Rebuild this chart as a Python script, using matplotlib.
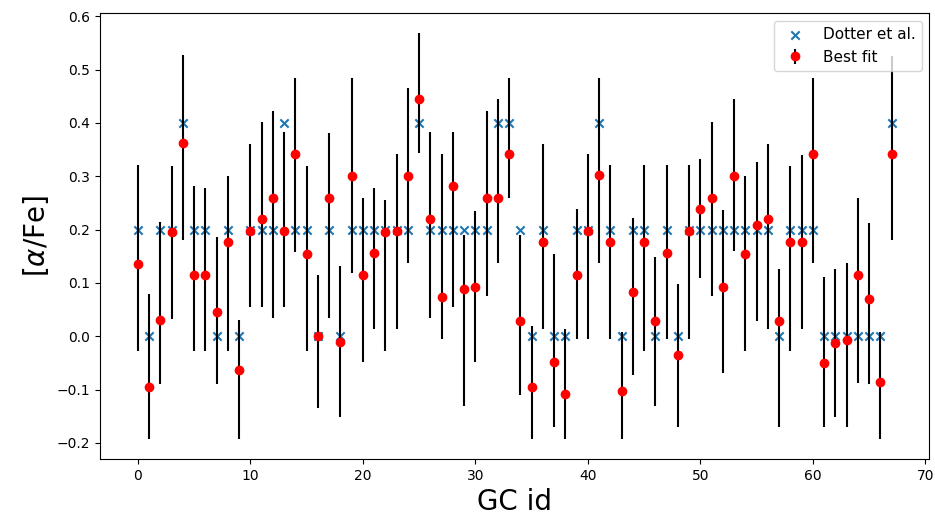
import numpy as np
import matplotlib
matplotlib.use("Agg")
import matplotlib.pyplot as plt

# Dotter et al. literature values
dotter = [0.2, 0.0, 0.2, 0.2, 0.4, 0.2, 0.2, 0.0, 0.2, 0.0,
          0.2, 0.2, 0.2, 0.4, 0.2, 0.2, 0.0, 0.2, 0.0, 0.2,
          0.2, 0.2, 0.2, 0.2, 0.2, 0.4, 0.2, 0.2, 0.2, 0.2,
          0.2, 0.2, 0.4, 0.4, 0.2, 0.0, 0.2, 0.0, 0.0, 0.2,
          0.2, 0.4, 0.2, 0.0, 0.2, 0.2, 0.0, 0.2, 0.0, 0.2,
          0.2, 0.2, 0.2, 0.2, 0.2, 0.2, 0.2, 0.0, 0.2, 0.2,
          0.2, 0.0, 0.0, 0.0, 0.0, 0.0, 0.0, 0.4]

# best fit values
best_fit = [0.136, -0.096, 0.031, 0.195, 0.363, 0.115, 0.115, 0.046, 0.177, -0.063,
            0.198, 0.219, 0.259, 0.198, 0.342, 0.155, 0.000, 0.259, -0.011, 0.300,
            0.115, 0.157, 0.196, 0.198, 0.300, 0.444, 0.219, 0.074, 0.281, 0.089,
            0.092, 0.259, 0.259, 0.342, 0.028, -0.096, 0.177, -0.049, -0.109, 0.115,
            0.198, 0.302, 0.177, -0.102, 0.083, 0.177, 0.028, 0.157, -0.036, 0.198,
            0.238, 0.259, 0.093, 0.300, 0.155, 0.208, 0.219, 0.028, 0.177, 0.177,
            0.342, -0.051, -0.013, -0.008, 0.115, 0.070, -0.085, 0.342]

# upper and lower ends of the error bars
fit_hi = [0.321, 0.079, 0.215, 0.319, 0.527, 0.281, 0.278, 0.187, 0.300, 0.030,
          0.361, 0.401, 0.423, 0.383, 0.484, 0.319, 0.115, 0.381, 0.131, 0.484,
          0.259, 0.278, 0.255, 0.342, 0.466, 0.568, 0.383, 0.342, 0.383, 0.190,
          0.235, 0.423, 0.444, 0.484, 0.190, 0.020, 0.361, 0.154, 0.013, 0.238,
          0.342, 0.484, 0.321, 0.008, 0.221, 0.321, 0.149, 0.321, 0.098, 0.321,
          0.332, 0.401, 0.236, 0.444, 0.300, 0.327, 0.361, 0.127, 0.319, 0.340,
          0.484, 0.111, 0.127, 0.137, 0.259, 0.213, 0.008, 0.526]

fit_lo = [-0.027, -0.192, -0.089, 0.033, 0.180, -0.027, -0.027, -0.089, -0.027, -0.192,
          0.055, 0.055, 0.035, 0.055, 0.158, -0.027, -0.134, 0.035, -0.151, 0.118,
          -0.048, 0.013, -0.028, 0.013, 0.137, 0.343, 0.035, -0.005, 0.055, -0.130,
          -0.049, 0.076, 0.137, 0.260, -0.111, -0.192, 0.013, -0.170, -0.192, -0.005,
          -0.005, 0.137, -0.006, -0.192, -0.073, -0.027, -0.130, -0.005, -0.170, -0.005,
          0.110, 0.076, -0.069, 0.159, -0.027, 0.029, 0.013, -0.170, -0.027, 0.013,
          0.137, -0.170, -0.151, -0.170, -0.088, -0.089, -0.192, 0.180]

gc_id = np.arange(len(dotter))
best_fit = np.array(best_fit)
yerr = [best_fit - np.array(fit_lo), np.array(fit_hi) - best_fit]

fig, ax = plt.subplots(figsize=(9.35, 5.25), dpi=100)

ax.scatter(gc_id, dotter, marker="x", label="Dotter et al.")
ax.errorbar(gc_id, best_fit, yerr=yerr, fmt="o", color="red", ecolor="black",
            label="Best fit")

ax.set_xlabel("GC id", fontsize=20)
ax.set_ylabel(r"[$\alpha$/Fe]", fontsize=20)
ax.legend(loc="upper right", fontsize=11)

plt.subplots_adjust(left=0.107, right=0.994, top=0.975, bottom=0.126)
plt.savefig("out.png", dpi=100)
